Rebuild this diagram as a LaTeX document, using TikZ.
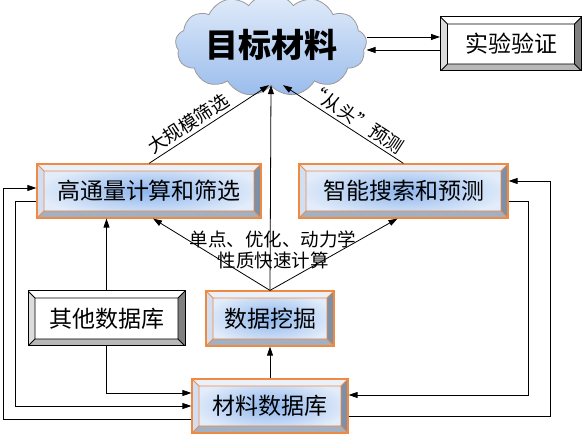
\documentclass[tikz,border=0pt]{standalone}
\usepackage{fontspec}
\setmainfont{Noto Sans CJK SC}
\usetikzlibrary{shapes.symbols,arrows.meta,calc}
\definecolor{orng}{HTML}{F08A40}
\definecolor{btop}{HTML}{EAF1FB}
\definecolor{bleft}{HTML}{D2DFF3}
\definecolor{bright}{HTML}{7F8FA6}
\definecolor{bbot}{HTML}{A2B0C4}
\definecolor{bcen}{HTML}{8DB5EC}
\definecolor{bedge}{HTML}{E2ECFA}
\definecolor{gleft}{HTML}{DCDCDC}
\definecolor{gright}{HTML}{808080}
\definecolor{gbot}{HTML}{B8B8B8}
\definecolor{ctop}{HTML}{E2ECFA}
\definecolor{cbot}{HTML}{9ABCEC}
\definecolor{cline}{HTML}{9A9A9A}
\tikzset{
  bevel/.style n args={5}{
    path picture={
      \coordinate (pa) at (path picture bounding box.north west);
      \coordinate (pb) at (path picture bounding box.north east);
      \coordinate (pc) at (path picture bounding box.south east);
      \coordinate (pd) at (path picture bounding box.south west);
      \coordinate (qa) at ([shift={(7pt,-7pt)}]pa);
      \coordinate (qb) at ([shift={(-7pt,-7pt)}]pb);
      \coordinate (qc) at ([shift={(-7pt,7pt)}]pc);
      \coordinate (qd) at ([shift={(7pt,7pt)}]pd);
      \fill[#1] (pa)--(pb)--(qb)--(qa)--cycle;
      \fill[#2] (pa)--(qa)--(qd)--(pd)--cycle;
      \fill[#3] (pb)--(pc)--(qc)--(qb)--cycle;
      \fill[#4] (pd)--(qd)--(qc)--(pc)--cycle;
      \draw[#5, line width=0.9pt] (qa) rectangle (qc) (pa)--(qa) (pb)--(qb) (pc)--(qc) (pd)--(qd);
    }},
  bluebox/.style={rectangle, draw=orng, line width=1.2pt, inner color=bcen, outer color=bedge,
    bevel={btop}{bleft}{bright}{bbot}{orng}, font=\fontsize{23}{27}\selectfont, inner sep=0pt},
  whitebox/.style={rectangle, draw=black, line width=1pt, fill=white,
    bevel={white}{gleft}{gright}{gbot}{black}, font=\fontsize{23}{27}\selectfont, inner sep=0pt},
  arr/.style={-{Triangle[length=9pt,width=6pt]}, line width=0.8pt},
  lbl/.style={font=\fontsize{18.5}{21}\selectfont, inner sep=3pt},
}
\begin{document}
\begin{tikzpicture}[x=1pt,y=-1pt]
\useasboundingbox (0,0) rectangle (582,435);
% nodes
\node[cloud, cloud puffs=13, cloud puff arc=110, aspect=2.3, draw=cline, line width=0.8pt,
      top color=ctop, bottom color=cbot, minimum width=182pt, minimum height=84pt, inner sep=0pt,
      font=\fontsize{33}{37}\selectfont\bfseries] (cloud) at (271,45) {目标材料};
\node[whitebox, minimum width=141pt, minimum height=54pt] (sy) at (511,44) {实验验证};
\node[bluebox, minimum width=224pt, minimum height=54pt] (hts) at (149,191) {高通量计算和筛选};
\node[bluebox, minimum width=209pt, minimum height=54pt] (zn) at (403.5,191) {智能搜索和预测};
\node[whitebox, minimum width=157pt, minimum height=55pt] (qt) at (106.5,318.5) {其他数据库};
\node[bluebox, minimum width=128pt, minimum height=55pt] (dm) at (270,318.5) {数据挖掘};
\node[bluebox, minimum width=156pt, minimum height=54pt] (cl) at (270,406) {材料数据库};
\node[lbl, align=center] (fan) at (273,250) {单点、优化、动力学\\性质快速计算};
% helper coordinates
\coordinate (cb) at ($(cloud.south)+(0,-1)$);
\coordinate (L1) at (3,0);
\coordinate (L2) at (15,0);
\coordinate (R1) at (528,0);
\coordinate (R2) at (550,0);
% cloud <-> experiment
\coordinate (s1) at ($(sy.west)+(0,-7)$);
\coordinate (s2) at ($(sy.west)+(0,6)$);
\draw[arr] (cloud.east |- s1) -- (s1);
\draw[arr] (s2) -- (cloud.east |- s2);
% to the cloud
\draw[arr] (hts.north) -- ($(cb)+(-2,0)$) node[lbl, pos=0.38, above, sloped] {大规模筛选};
\draw[arr] (zn.north) -- ($(cb)+(12,0)$) node[lbl, pos=0.45, above, sloped] {“从头”预测};
\draw[arr] (dm.north) -- (cb);
% fan from data mining
\draw[arr] (dm.north) -- ($(hts.south)+(4,0)$);
\draw[arr] (dm.north) -- ($(zn.south)+(-6,0)$);
% other databases
\draw[arr] (qt.north) -- (qt.north |- hts.south);
\coordinate (c1) at ($(cl.west)+(0,-13)$);
\draw[arr] (qt.south) -- (qt.south |- c1) -- (c1);
% data base -> mining
\draw[arr] (cl.north) -- (dm.south);
% left loops
\coordinate (hin) at ($(hts.west)+(0,-3)$);
\coordinate (hout) at ($(hts.west)+(0,10)$);
\coordinate (c2) at ($(cl.west)+(0,0)$);
\coordinate (c3) at ($(cl.west)+(0,13)$);
\draw[arr] (hout) -- (L2 |- hout) -- (L2 |- c2) -- (c2);
\draw[arr] (c3) -- (L1 |- c3) -- (L1 |- hin) -- (hin);
% right loops
\coordinate (zin) at ($(zn.east)+(0,-10)$);
\coordinate (zout) at ($(zn.east)+(0,10)$);
\coordinate (c4) at ($(cl.east)+(0,-11)$);
\coordinate (c5) at ($(cl.east)+(0,10)$);
\draw[arr] (zout) -- (R1 |- zout) -- (R1 |- c4) -- (c4);
\draw[arr] (c5) -- (R2 |- c5) -- (R2 |- zin) -- (zin);
\end{tikzpicture}
\end{document}
